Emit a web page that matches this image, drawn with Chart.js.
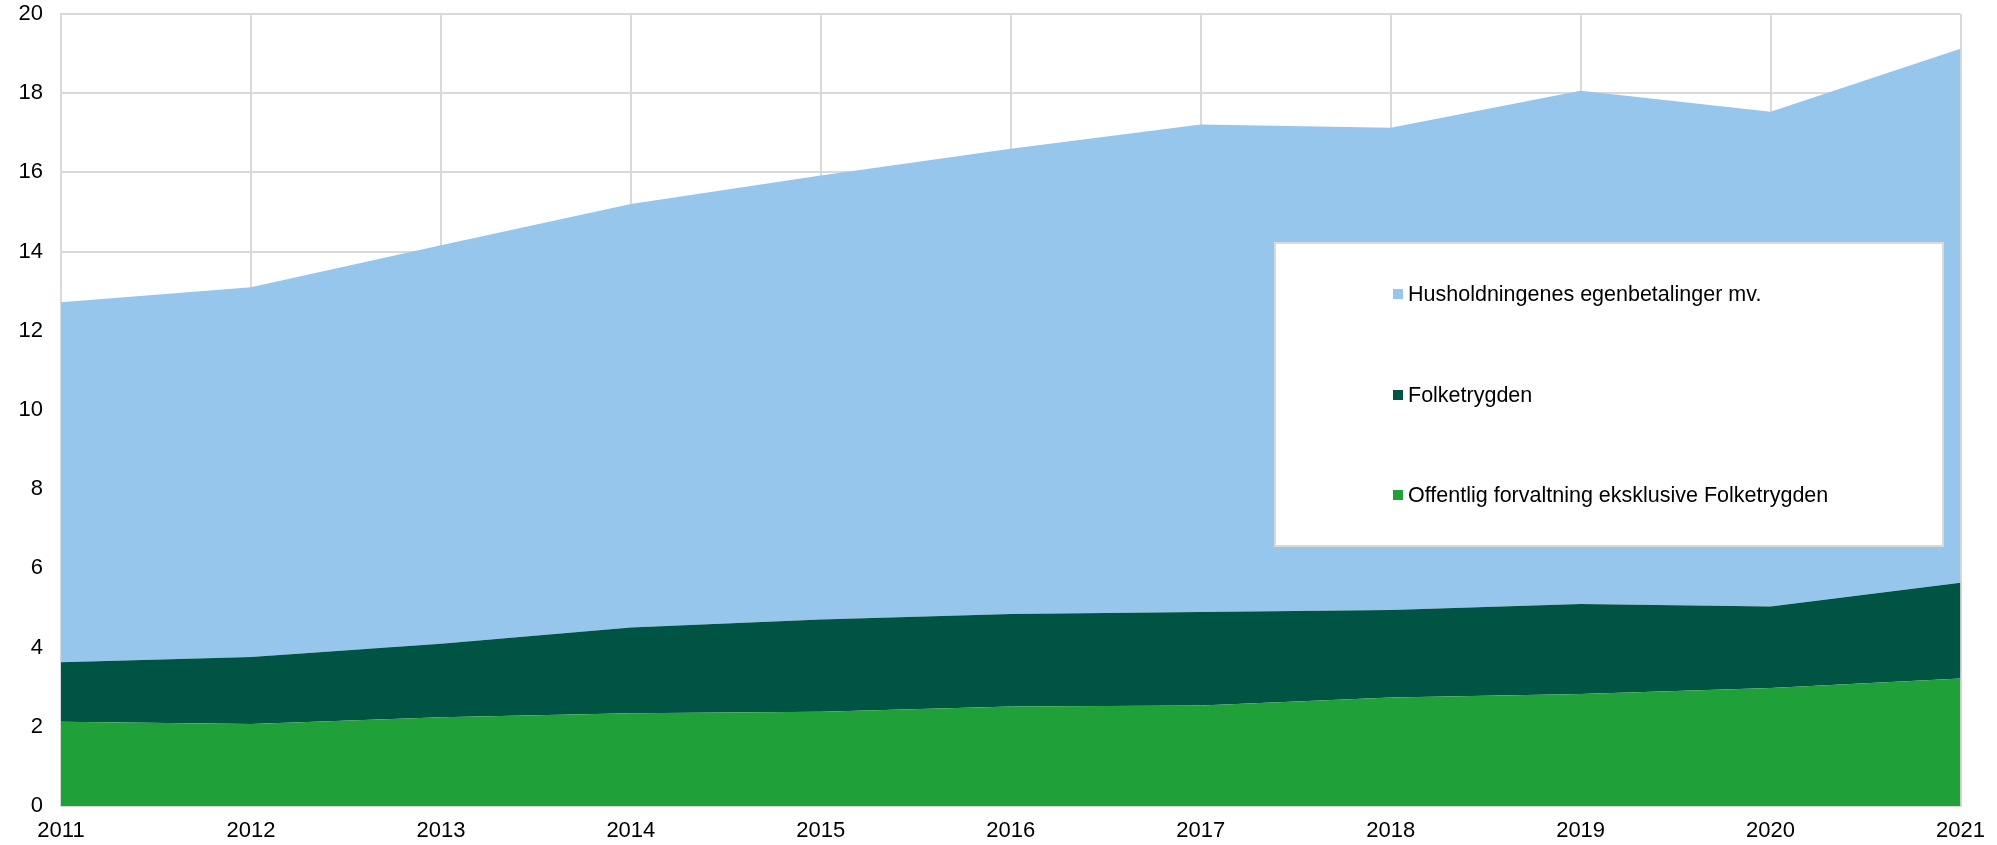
<!DOCTYPE html>
<html lang="no">
  <head>
    <meta charset="UTF-8" />
    <title>Helseutgifter etter finansieringskilde</title>
    <script src="https://cdn.jsdelivr.net/npm/chart.js"></script>
    <style>
      html, body { margin: 0; padding: 0; background: #fff; }
      #wrap { width: 1997px; height: 845px; }
    </style>
  </head>
  <body>
    <div id="wrap">
      <canvas id="chart" width="1997" height="845"></canvas>
    </div>

    <script>
      // data lest av figuren (stablet)
      const years = ["2011", "2012", "2013", "2014", "2015", "2016", "2017", "2018", "2019", "2020", "2021"];
      const offentlig = [2.13, 2.07, 2.24, 2.34, 2.38, 2.51, 2.54, 2.74, 2.83, 2.98, 3.22];
      const folketrygden = [1.50, 1.69, 1.86, 2.17, 2.33, 2.34, 2.36, 2.21, 2.27, 2.06, 2.42];
      const husholdninger = [9.09, 9.34, 10.06, 10.69, 11.21, 11.75, 12.31, 12.18, 12.96, 12.49, 13.48];
      const yTicks = [0, 2, 4, 6, 8, 10, 12, 14, 16, 18, 20];

      const gridColor = "#d9d9d9";
      const font = "'Liberation Sans', Arial, sans-serif";

      // legendeboks inne i plottet, øverste serie først
      const boxLegend = {
        id: "boxLegend",
        afterDatasetsDraw(chart) {
          const ctx = chart.ctx;
          const x = 1275, y = 243, w = 668, h = 303;
          ctx.save();
          ctx.fillStyle = "#fff";
          ctx.fillRect(x, y, w, h);
          ctx.strokeStyle = gridColor;
          ctx.lineWidth = 2;
          ctx.strokeRect(x, y, w, h);
          const rows = [294, 395, 495];
          const sets = chart.data.datasets.slice().reverse();
          ctx.font = "21.5px " + font;
          ctx.textBaseline = "middle";
          sets.forEach((ds, i) => {
            ctx.fillStyle = ds.backgroundColor;
            ctx.fillRect(1393, rows[i] - 5, 10, 10);
            ctx.fillStyle = "#000";
            ctx.fillText(ds.label, 1408, rows[i] + 1);
          });
          ctx.restore();
        },
      };

      new Chart(document.getElementById("chart"), {
        type: "line",
        data: {
          labels: years,
          datasets: [
            {
              label: "Offentlig forvaltning eksklusive Folketrygden",
              data: offentlig,
              backgroundColor: "#20a038",
              borderWidth: 0,
              pointRadius: 0,
              fill: "origin",
            },
            {
              label: "Folketrygden",
              data: folketrygden,
              backgroundColor: "#005444",
              borderWidth: 0,
              pointRadius: 0,
              fill: "-1",
            },
            {
              label: "Husholdningenes egenbetalinger mv.",
              data: husholdninger,
              backgroundColor: "#96c6eb",
              borderWidth: 0,
              pointRadius: 0,
              fill: "-1",
            },
          ],
        },
        options: {
          responsive: false,
          animation: false,
          layout: { padding: { left: 0, right: 36, top: 14, bottom: 0 } },
          plugins: {
            legend: { display: false },
            tooltip: { enabled: false },
          },
          scales: {
            x: {
              offset: false,
              grid: { color: gridColor, lineWidth: 2, drawTicks: false },
              border: { color: gridColor, width: 2 },
              ticks: {
                color: "#000",
                font: { family: font, size: 22 },
                padding: 12,
                maxRotation: 0,
                autoSkip: false,
              },
              afterFit: (s) => { s.height = 39; },
            },
            y: {
              stacked: true,
              min: 0,
              max: 20,
              afterBuildTicks: (s) => { s.ticks = yTicks.map((v) => ({ value: v })); },
              grid: { color: gridColor, lineWidth: 2, drawTicks: false },
              border: { color: gridColor, width: 2 },
              ticks: {
                color: "#000",
                font: { family: font, size: 22 },
                padding: 18,
              },
              afterFit: (s) => {
                s.width = 61;
                s.paddingTop = 0;
              },
            },
          },
        },
        plugins: [boxLegend],
      });
    </script>
  </body>
</html>
